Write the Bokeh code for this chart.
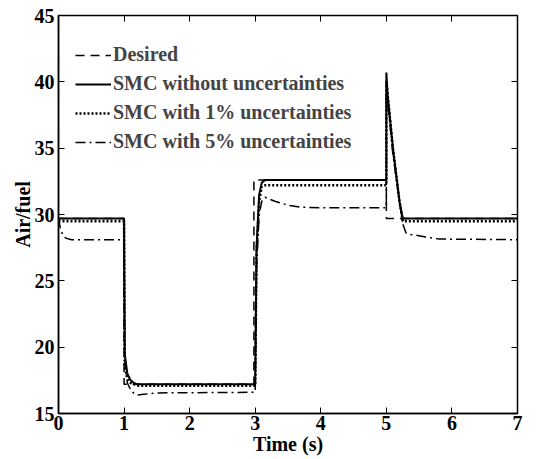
from bokeh.plotting import figure
from bokeh.models import LinearAxis, Legend, LegendItem, Range1d, FixedTicker, CustomJSTickFormatter
from bokeh.embed import file_html
from bokeh.resources import INLINE

# ---- data ----
desired_t = [0, 1, 1, 2.98, 2.98, 5, 5, 7]
desired_y = [29.7, 29.7, 17.2, 17.2, 32.6, 32.6, 29.7, 29.7]

smc0_t = [0, 1, 1.01, 1.05, 1.1, 1.15, 1.2, 3, 3.02, 3.06, 3.1, 3.15, 5, 5.0, 5.02, 5.1, 5.2, 5.25, 7]
smc0_y = [29.7, 29.7, 19.5, 18.0, 17.5, 17.3, 17.2, 17.2, 27.5, 31.5, 32.4, 32.6, 32.6, 40.7, 39.0, 35.0, 31.0, 29.7, 29.7]

smc1_t = [0, 1, 1.01, 1.05, 1.1, 1.2, 3, 3.02, 3.06, 3.1, 3.15, 5, 5.0, 5.05, 5.1, 5.2, 5.25, 7]
smc1_y = [29.5, 29.5, 18.5, 17.6, 17.3, 17.1, 17.1, 27.0, 31.0, 32.1, 32.2, 32.2, 40.0, 37.5, 35.0, 31.0, 29.5, 29.5]

smc5_t = [0, 0.03, 0.07, 0.12, 0.2, 1, 1.01, 1.05, 1.1, 1.15, 1.2, 1.3, 1.5, 3, 3.02, 3.06, 3.1, 3.15,
          3.3, 3.5, 3.7, 4, 5, 5.0, 5.05, 5.1, 5.2, 5.25, 5.3, 5.35, 5.45, 5.6, 5.8, 7]
smc5_y = [29.7, 28.9, 28.4, 28.2, 28.1, 28.1, 19.0, 17.3, 16.8, 16.5, 16.4, 16.45, 16.55, 16.6, 26.0, 30.0, 31.0, 31.3,
          31.0, 30.7, 30.55, 30.5, 30.5, 39.0, 37.0, 34.5, 31.0, 29.3, 28.6, 28.5, 28.45, 28.3, 28.15, 28.1]

x_ticks = [0, 1, 2, 3, 4, 5, 6, 7]
y_ticks = [15, 20, 25, 30, 35, 40, 45]
labels = ["Desired", "SMC without uncertainties", "SMC with 1% uncertainties", "SMC with 5% uncertainties"]

FONT = "Liberation Serif"
FS = "20px"

p = figure(frame_width=459, frame_height=398, output_backend="svg", toolbar_location=None,
           x_range=Range1d(0, 7), y_range=Range1d(15, 45),
           min_border_left=58, min_border_right=22, min_border_top=15, min_border_bottom=42)
p.grid.visible = False
p.outline_line_color = "black"
p.outline_line_width = 1.5
p.background_fill_color = "white"
p.border_fill_color = "white"

r_des = p.line(desired_t, desired_y, line_color="black", line_width=1.5, line_dash="9 6")
r0 = p.line(smc0_t, smc0_y, line_color="black", line_width=2)
r1 = p.line(smc1_t, smc1_y, line_color="black", line_width=2.5, line_dash="2 2")
r5 = p.line(smc5_t, smc5_y, line_color="black", line_width=1.5, line_dash="10 4 2 4")

for ax in (p.xaxis[0], p.yaxis[0]):
    ax.major_label_text_font = FONT
    ax.major_label_text_font_style = "bold"
    ax.major_label_text_font_size = FS
    ax.major_label_text_color = "black"
    ax.axis_label_text_font = FONT
    ax.axis_label_text_font_style = "bold"
    ax.axis_label_text_font_size = FS
    ax.axis_label_text_color = "black"
    ax.major_tick_in = 6
    ax.major_tick_out = 0
    ax.minor_tick_line_color = None
    ax.axis_line_color = "black"
    ax.axis_line_width = 1.5
    ax.major_tick_line_color = "black"

p.xaxis[0].ticker = FixedTicker(ticks=x_ticks)
p.yaxis[0].ticker = FixedTicker(ticks=y_ticks)
p.xaxis[0].axis_label = "Time (s)"
p.yaxis[0].axis_label = "Air/fuel"
p.xaxis[0].axis_label_standoff = 0
p.xaxis[0].major_label_standoff = 2
p.yaxis[0].axis_label_standoff = -2
p.yaxis[0].major_label_standoff = 4

blank = CustomJSTickFormatter(code="return ''")
top = LinearAxis(ticker=FixedTicker(ticks=x_ticks), formatter=blank, major_label_standoff=0,
                 major_tick_in=6, major_tick_out=0, minor_tick_line_color=None, axis_line_color=None)
right = LinearAxis(ticker=FixedTicker(ticks=y_ticks), formatter=blank, major_label_standoff=0,
                   major_tick_in=6, major_tick_out=0, minor_tick_line_color=None, axis_line_color=None)
p.add_layout(top, "above")
p.add_layout(right, "right")

legend = Legend(items=[LegendItem(label=labels[0], renderers=[r_des]),
                       LegendItem(label=labels[1], renderers=[r0]),
                       LegendItem(label=labels[2], renderers=[r1]),
                       LegendItem(label=labels[3], renderers=[r5])],
                location=(17, 260), border_line_color=None, background_fill_alpha=0,
                label_text_font=FONT, label_text_font_style="bold", label_text_font_size=FS,
                glyph_width=36, spacing=6, padding=6, label_standoff=2)
p.add_layout(legend, "center")

open("out.html", "w").write(file_html(p, INLINE))
